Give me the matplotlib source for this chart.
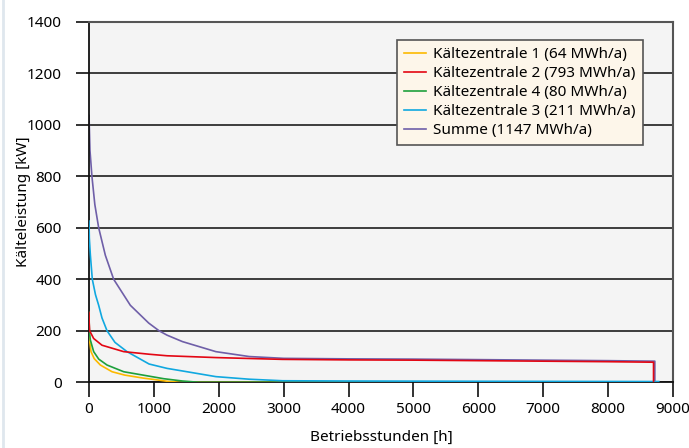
import matplotlib
matplotlib.use("Agg")
import matplotlib.pyplot as plt
from matplotlib.lines import Line2D

plt.rcParams['font.family'] = ['Noto Sans', 'DejaVu Sans']

# --- Daten ---
h_kz1 = [0, 10, 31, 80, 175, 355, 550, 843, 1000, 1203, 1400, 8760]
kw_kz1 = [196, 160, 119, 92, 67, 41, 28, 16, 11, 4, 0, 0]

h_kz2 = [0, 3, 10, 72, 200, 535, 926, 1203, 1955, 2983, 4000, 5000, 6000, 7000, 8000, 8700, 8700]
kw_kz2 = [271, 230, 200, 170, 144, 119, 109, 103, 96, 89, 87, 86, 84, 82, 80, 78, 0]

h_kz4 = [0, 5, 20, 72, 150, 278, 535, 900, 1151, 1440, 1700, 8760]
kw_kz4 = [272, 200, 165, 119, 90, 67, 41, 25, 14, 5, 0, 0]

h_kz3 = [0, 5, 21, 51, 100, 149, 200, 278, 400, 586, 926, 1203, 1440, 1955, 2469, 2983, 4000, 6000, 8780]
kw_kz3 = [626, 560, 494, 400, 340, 299, 250, 200, 155, 119, 71, 54, 44, 22, 12, 6, 5, 4, 3]

h_sum = [0, 15, 45, 90, 149, 252, 380, 637, 920, 1080, 1203, 1440, 1955, 2469, 3000, 4000, 5000, 6000, 7000, 8000, 8720, 8720]
kw_sum = [1036, 900, 800, 690, 600, 493, 400, 299, 230, 200, 183, 158, 119, 100, 93, 91, 90, 88, 86, 84, 82, 0]

labels = ['Kältezentrale 1 (64 MWh/a)', 'Kältezentrale 2 (793 MWh/a)',
          'Kältezentrale 4 (80 MWh/a)', 'Kältezentrale 3 (211 MWh/a)',
          'Summe (1147 MWh/a)']
farben = ['#fcb900', '#e30613', '#1ea03c', '#10a8e0', '#6f5fa8']

FS = 11

fig = plt.figure(figsize=(6.89, 4.48), dpi=100)
ax = fig.add_axes([89 / 689, 1 - 382.3 / 448, 584 / 689, 360.6 / 448])
ax.set_facecolor('#f4f4f4')

lw = 1.2
ax.plot(h_sum, kw_sum, color=farben[4], lw=lw, zorder=2)
ax.plot(h_kz1, kw_kz1, color=farben[0], lw=lw, zorder=3)
ax.plot(h_kz4, kw_kz4, color=farben[2], lw=lw, zorder=4)
ax.plot(h_kz3, kw_kz3, color=farben[3], lw=lw, zorder=5)
ax.plot(h_kz2, kw_kz2, color=farben[1], lw=lw, zorder=6)

ax.set_xlim(0, 9000)
ax.set_ylim(0, 1400)
ax.set_xticks(range(0, 9001, 1000))
ax.set_yticks(range(0, 1401, 200))

ax.yaxis.grid(True, color='#2e2e2e', lw=1.3)
ax.set_axisbelow(True)

ax.tick_params(axis='x', direction='out', length=11, width=1.3, pad=3, labelsize=FS, color='#222222')
ax.tick_params(axis='y', direction='out', length=9.5, width=1.3, pad=10, labelsize=FS, color='#222222')

for s in ['left', 'bottom']:
    ax.spines[s].set_color('#111111')
    ax.spines[s].set_linewidth(1.3)
for s in ['top', 'right']:
    ax.spines[s].set_color('#555555')
    ax.spines[s].set_linewidth(1.5)

ax.set_xlabel('Betriebsstunden [h]', fontsize=FS)
ax.set_ylabel('Kälteleistung [kW]', fontsize=FS)
ax.xaxis.set_label_coords(0.5, -0.132)
ax.yaxis.set_label_coords(-0.100, 0.5)

handles = [Line2D([], [], color=c, lw=lw) for c in farben]
leg = ax.legend(handles, labels, loc='upper left', bbox_to_anchor=(0.528, 0.949),
                borderaxespad=0, fontsize=FS, frameon=True, fancybox=False,
                handlelength=1.45, handletextpad=0.45, labelspacing=0.26,
                borderpad=0.45)
leg.get_frame().set_facecolor('#fdf6ea')
leg.get_frame().set_edgecolor('#555555')
leg.get_frame().set_linewidth(1.2)
leg.get_frame().set_alpha(1)

# linker Rand
fig.add_artist(Line2D([3 / 689, 3 / 689], [0, 1], transform=fig.transFigure,
                      color='#dfe7ee', lw=2))

fig.savefig('out.png', dpi=100)
